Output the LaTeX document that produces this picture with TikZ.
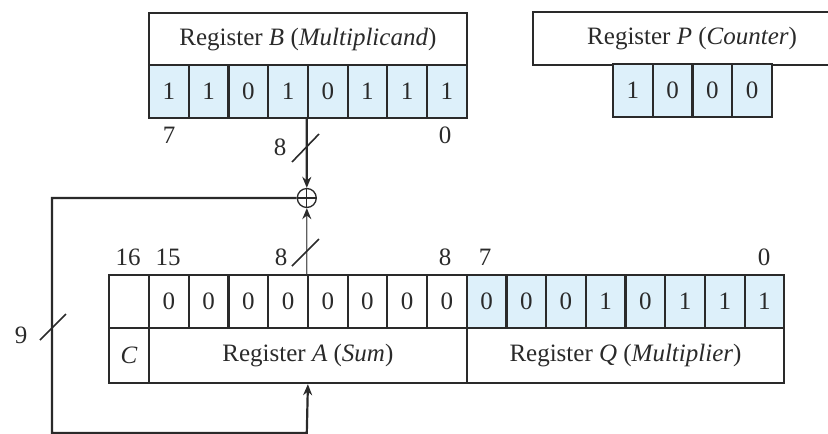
\documentclass[tikz,border=0pt]{standalone}
\usepackage{fontspec}
\setmainfont{Liberation Serif}
\usetikzlibrary{arrows.meta}
\definecolor{cellblue}{HTML}{DDF0FA}
\definecolor{ink}{HTML}{2A2A2A}
\tikzset{
  txt/.style={font=\fontsize{25}{29}\selectfont, text=ink},
  cellb/.style={draw=ink, line width=2.2pt, fill=cellblue, minimum width=39.7pt, minimum height=53pt, inner sep=0pt, anchor=north west, txt},
  cellw/.style={cellb, fill=white},
  regbox/.style={draw=ink, line width=2.2pt, fill=white, minimum width=317.6pt, minimum height=53pt, inner sep=0pt, anchor=north west, txt},
  lab/.style={txt, inner sep=0pt},
  wire/.style={draw=ink, line width=2.2pt},
  arr/.style={wire, -{Stealth[length=11pt,width=9pt,color=ink]}},
  slash/.style={draw=ink, line width=1.6pt},
}
\begin{document}
\begin{tikzpicture}[x=1pt,y=-1pt]
\useasboundingbox (0,0) rectangle (828,434);
\clip (0,0) rectangle (828,434);
% Register B
\node[regbox] (regB) at (148,12) {Register \textit{B} (\textit{Multiplicand})};
\foreach \i/\b in {0/1,1/1,2/0,3/1,4/0,5/1,6/1,7/1}
  \node[cellb] (b\i) at ({148+39.7*\i},64) {\b};
\node[lab] (b7lab) at (169,135) {7};
\node[lab] (b0lab) at (445,135) {0};
% Register P
\node[regbox, minimum width=318pt] (regP) at (532,11) {Register \textit{P} (\textit{Counter})};
\foreach \i/\b in {0/1,1/0,2/0,3/0}
  \node[cellb] (p\i) at ({612+39.7*\i},63) {\b};
% Register A and Q
\node[cellw, minimum width=40pt] (cbit) at (108,274) {};
\foreach \i/\b in {0/0,1/0,2/0,3/0,4/0,5/0,6/0,7/0}
  \node[cellw] (a\i) at ({148+39.7*\i},274) {\b};
\foreach \i/\b in {0/0,1/0,2/0,3/1,4/0,5/1,6/1,7/1}
  \node[cellb] (q\i) at ({465.6+39.7*\i},274) {\b};
\node[cellw, minimum width=40pt, minimum height=55pt] (clab) at (108,327) {\textit{C}};
\node[regbox, minimum height=55pt] (regA) at (148,327) {Register \textit{A} (\textit{Sum})};
\node[regbox, minimum height=55pt] (regQ) at (465.6,327) {Register \textit{Q} (\textit{Multiplier})};
% bit labels
\node[lab] (l16) at (128,257) {16};
\node[lab] (l15) at (168,257) {15};
\node[lab] (l8) at (445,257) {8};
\node[lab] (l7) at (485,257) {7};
\node[lab] (l0) at (764,257) {0};
% adder
\node[circle, draw=ink, line width=1.3pt, fill=white, minimum size=19pt, inner sep=0pt] (sum) at (306.8,198) {};
\draw[ink, line width=1.3pt] (sum.north) -- (sum.south) (sum.west) -- (sum.east);
% connectors
\draw[arr] (b4.south west) -- (sum.north);
\draw[arr, draw=ink!75, line width=1.3pt] (a4.north west) -- (sum.south);
\coordinate (fbtl) at (52,198);
\coordinate (fbbl) at (52,433);
\coordinate (fbbr) at (306.8,433);
\draw[arr] (sum.west) -- (fbtl) -- (fbbl) -- (fbbr) -- (regA.south);
% bus width marks
\draw[slash] (292,162) -- (319,134);
\node[lab] (w8a) at (280,147) {8};
\draw[slash] (292,266) -- (319,239);
\node[lab] (w8b) at (281,257) {8};
\draw[slash] (40,340) -- (66,314);
\node[lab] (w9) at (21,335) {9};
\end{tikzpicture}
\end{document}
